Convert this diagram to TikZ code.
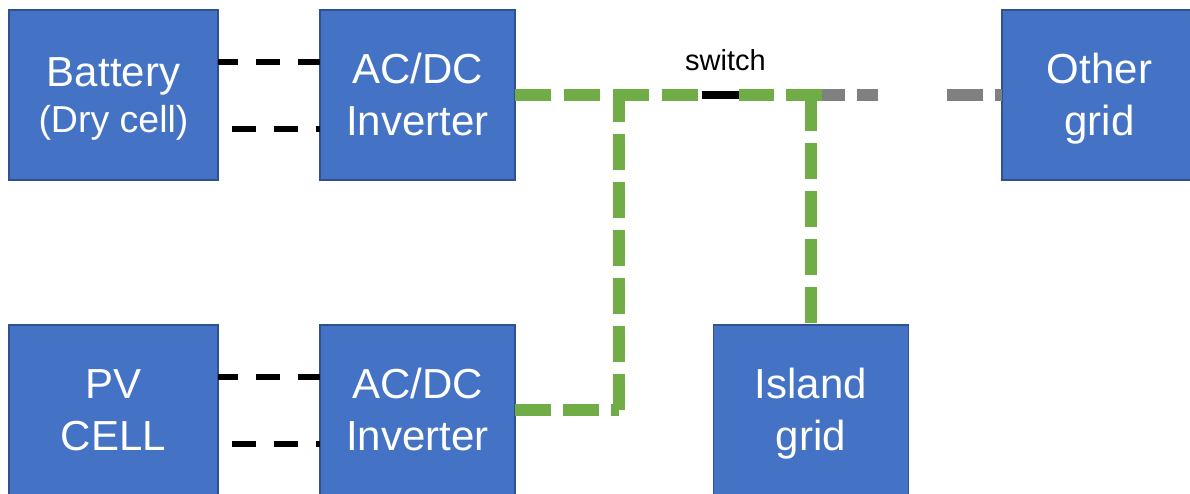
\documentclass[tikz,border=0pt]{standalone}
\usepackage{fontspec}
\setmainfont{Liberation Sans}
\definecolor{boxfill}{HTML}{4472C4}
\definecolor{boxline}{HTML}{2F528F}
\definecolor{grnline}{HTML}{70AD47}
\definecolor{gryline}{HTML}{808080}
\newcommand\twoline[2]{\rule{0pt}{30pt}\smash{#1}\\\smash{#2}\rule[-2pt]{0pt}{2pt}}
\tikzset{
  blockbox/.style={draw=boxline, fill=boxfill, line width=1.5pt, text=white,
    minimum width=195pt, minimum height=170pt, inner sep=0pt, outer sep=0pt,
    font=\fontsize{42}{52}\selectfont, align=center},
  blkline/.style={draw=black, line width=6pt, dash pattern=on 24pt off 18pt},
  grnline/.style={draw=grnline, line width=12pt, dash pattern=on 36pt off 12pt},
  gryline/.style={draw=gryline, line width=12pt},
  swline/.style={draw=black, line width=7.5pt}
}
\begin{document}
\begin{tikzpicture}[x=1pt,y=-1pt]
\useasboundingbox (0,0) rectangle (1190,493);
\clip (0,0) rectangle (1190,493);
% boxes
\node[blockbox, minimum width=209pt, font=\fontsize{42}{46}\selectfont] (bat) at (113.5,95)
  {\twoline{Battery}{\fontsize{37.5}{46}\selectfont (Dry cell)}};
\node[blockbox] (inv1) at (417.5,95) {\twoline{AC/DC}{Inverter}};
\node[blockbox] (oth) at (1099.5,95) {\twoline{Other}{grid}};
\node[blockbox, minimum width=209pt] (pv) at (113.5,410) {\twoline{PV}{CELL}};
\node[blockbox] (inv2) at (417.5,410) {\twoline{AC/DC}{Inverter}};
\node[blockbox] (isl) at (811,410) {\twoline{Island}{grid}};
% switch label
\node[font=\fontsize{29}{35}\selectfont, anchor=base, inner sep=0pt] (swl) at (725.5,70) {switch};
% junction coordinates
\coordinate (j1) at (619,95);
\coordinate (j2) at (inv2.east -| j1);
\coordinate (j3) at (isl.north |- j1);
\coordinate (sw1) at (702,95);
\coordinate (sw2) at (739,95);
\coordinate (g1) at (822,95);
% black DC links
\draw[blkline, dash phase=4pt] ([yshift=33pt]bat.east) -- ([yshift=33pt]inv1.west);
\draw[blkline, dash phase=28pt] ([yshift=-33.7pt]bat.east) -- ([yshift=-33.7pt]inv1.west);
\draw[blkline, dash phase=4pt] ([yshift=33pt]pv.east) -- ([yshift=33pt]inv2.west);
\draw[blkline, dash phase=28pt] ([yshift=-34pt]pv.east) -- ([yshift=-34pt]inv2.west);
% gray link to other grid
\draw[gryline, dash pattern=on 23pt off 12pt on 21pt off 69pt on 36pt off 12pt on 30pt] (g1) -- (oth.west);
% green AC links
\draw[grnline, dash pattern=on 36pt off 13pt] (inv1.east) -- (sw1);
\draw[grnline] (g1) -- (sw2);
\draw[grnline] (inv2.east) -- (j2);
\draw[grnline] (j2) -- ([yshift=6pt]j1);
\draw[grnline, dash phase=46pt] (isl.north) -- (j3);
% switch
\draw[swline] (sw1) -- (sw2);
\end{tikzpicture}
\end{document}
